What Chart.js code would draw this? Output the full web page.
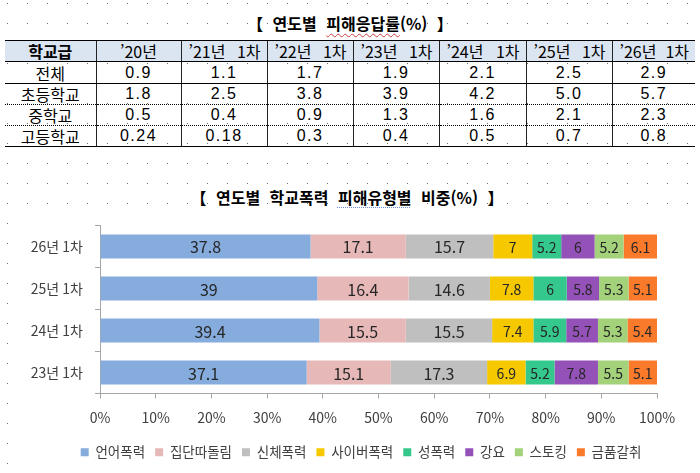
<!DOCTYPE html>
<html lang="ko"><head><meta charset="utf-8">
<script src="https://cdn.jsdelivr.net/npm/chart.js@4"></script>
<style>
html,body{margin:0;padding:0;}
body{width:700px;height:473px;position:relative;overflow:hidden;background-color:#fff;
 background-image:url("data:image/svg+xml,%3Csvg xmlns='http://www.w3.org/2000/svg' width='20' height='20'%3E%3Crect x='7' y='3' width='1' height='1' fill='%23707070'/%3E%3C/svg%3E");
 background-size:20px 20px;font-family:'Noto Sans CJK KR',sans-serif;color:#000;}
.title{position:absolute;left:0;width:700px;text-align:center;font-weight:bold;font-size:16px;word-spacing:5px;line-height:20px;white-space:nowrap;}
.wavy{text-decoration:underline wavy #d04040;text-decoration-thickness:1px;text-underline-offset:3px;}
.dotu{text-decoration:underline dotted #6a8cd0;text-decoration-thickness:1px;text-underline-offset:3px;}
#tbl{position:absolute;left:5px;top:40px;width:690px;border-collapse:collapse;table-layout:fixed;font-size:16px;}
#tbl td,#tbl th{padding:0;text-align:center;height:20px;line-height:20px;white-space:nowrap;overflow:hidden;}
#tbl th{background:#dbe5f1;font-weight:normal;border-top:1px solid #000;border-bottom:1px solid #000;}
#tbl th:first-child{font-weight:bold;}
#tbl td+td,#tbl th+th{border-left:1px solid #222;}
#tbl td.num{font-family:'Liberation Sans','Noto Sans CJK KR',sans-serif;letter-spacing:1.5px;}
#tbl tr.r1 td{border-bottom:1px solid #000;height:21px;}
#tbl tr.r2 td,#tbl tr.r3 td{border-bottom:1px dotted #000;}
#tbl tr.r4 td{border-bottom:1px solid #000;}
.hd{display:flex;justify-content:space-between;padding:0 6px 0 7px;}
#chartbox{position:absolute;left:12px;top:208px;width:676px;height:262px;background:#fff;}
#wrap{position:absolute;left:0;top:205px;width:700px;height:268px;}
</style></head>
<body>
<div class="title" style="top:13px;">【 연도별 <span class="wavy">피해응답률</span>(%) 】</div>
<table id="tbl"></table>
<div class="title" style="top:187px;left:-3px;">【 연도별 학교폭력 <span class="dotu">피해유형별</span> 비중(%) 】</div>
<div id="chartbox"></div>
<div id="wrap"><canvas id="c"></canvas></div>
<script>
// ---- table data ----
const tableHeaders = ['학교급', '’20년', '’21년 1차', '’22년 1차', '’23년 1차', '’24년 1차', '’25년 1차', '’26년 1차'];
const tableRowNames = ['전체', '초등학교', '중학교', '고등학교'];
const rateTotal = ['0.9', '1.1', '1.7', '1.9', '2.1', '2.5', '2.9'];
const rateElem = ['1.8', '2.5', '3.8', '3.9', '4.2', '5.0', '5.7'];
const rateMiddle = ['0.5', '0.4', '0.9', '1.3', '1.6', '2.1', '2.3'];
const rateHigh = ['0.24', '0.18', '0.3', '0.4', '0.5', '0.7', '0.8'];

// ---- chart data ----
const categories = ['26년 1차', '25년 1차', '24년 1차', '23년 1차'];
const seriesNames = ['언어폭력', '집단따돌림', '신체폭력', '사이버폭력', '성폭력', '강요', '스토킹', '금품갈취'];
const verbal   = [37.8, 39, 39.4, 37.1];
const ostracism = [17.1, 16.4, 15.5, 15.1];
const physical = [15.7, 14.6, 15.5, 17.3];
const cyber    = [7, 7.8, 7.4, 6.9];
const sexual   = [5.2, 6, 5.9, 5.2];
const coercion = [6, 5.8, 5.7, 7.8];
const stalking = [5.2, 5.3, 5.3, 5.5];
const extortion = [6.1, 5.1, 5.4, 5.1];
const xTicks = [0, 10, 20, 30, 40, 50, 60, 70, 80, 90, 100];

// ---- build table ----
(function(){
  const t = document.getElementById('tbl');
  const widths = [91, 85, 86, 86, 86, 87, 86, 83];
  let h = '<colgroup>' + widths.map(w => '<col style="width:' + w + 'px">').join('') + '</colgroup>';
  h += '<tr>' + tableHeaders.map((s, i) => {
    const parts = s.split(' ');
    if (parts.length > 1) return '<th><div class="hd"><span>' + parts[0] + '</span><span>' + parts[1] + '</span></div></th>';
    return '<th>' + s + '</th>';
  }).join('') + '</tr>';
  const rows = [rateTotal, rateElem, rateMiddle, rateHigh];
  rows.forEach((r, i) => {
    h += '<tr class="r' + (i + 1) + '"><td>' + tableRowNames[i] + '</td>' + r.map(v => '<td class="num">' + v + '</td>').join('') + '</tr>';
  });
  t.innerHTML = h;
})();

// ---- chart ----
const colors = ['#85acdc', '#e6b9b8', '#bfbfbf', '#f5c800', '#35c88d', '#9452b8', '#a4d27a', '#fa7a2c'];
const seriesData = [verbal, ostracism, physical, cyber, sexual, coercion, stalking, extortion];

const barLabels = {
  id: 'barLabels',
  afterDatasetsDraw(chart) {
    const ctx = chart.ctx;
    chart.data.datasets.forEach((ds, i) => {
      const meta = chart.getDatasetMeta(i);
      meta.data.forEach((bar, j) => {
        const v = ds.data[j];
        const cx = (bar.x + bar.base) / 2;
        ctx.save();
        ctx.font = (v >= 10 ? 16 : 14) + "px 'Noto Sans CJK KR'";
        ctx.fillStyle = '#262626';
        ctx.textAlign = 'center';
        ctx.textBaseline = 'middle';
        ctx.fillText(String(v), cx, bar.y + 1);
        ctx.restore();
      });
    });
  }
};
const legendShift = {
  id: 'legendShift',
  afterLayout(chart) {
    const lg = chart.legend;
    if (!lg) return;
    const d = 361 - (lg.left + lg.right) / 2;
    lg.left += d; lg.right += d;
  }
};

Chart.defaults.font.family = "'Noto Sans CJK KR', sans-serif";
new Chart(document.getElementById('c'), {
  type: 'bar',
  data: {
    labels: categories,
    datasets: seriesNames.map((n, i) => ({
      label: n, data: seriesData[i], backgroundColor: colors[i], borderWidth: 0,
      barPercentage: 0.57, categoryPercentage: 1.0
    }))
  },
  options: {
    indexAxis: 'y',
    responsive: true,
    maintainAspectRatio: false,
    animation: false,
    layout: { padding: { left: 0, right: 43, top: 14, bottom: 4 } },
    scales: {
      x: {
        stacked: true, min: 0, max: 100,
        afterBuildTicks(s) { s.ticks = xTicks.map(v => ({ value: v })); },
        ticks: { callback: v => v + '%', color: '#404040', font: { size: 14 }, padding: 11, maxRotation: 0 },
        grid: { drawOnChartArea: false, drawTicks: true, tickLength: 5, color: '#a6a6a6' },
        border: { color: '#a6a6a6', width: 1 },
        afterFit(s) { s.height = 42; }
      },
      y: {
        stacked: true,
        ticks: { color: '#404040', font: { size: 14 }, padding: 12 },
        grid: { drawOnChartArea: false, drawTicks: true, tickLength: 5, color: '#a6a6a6', offset: true },
        border: { color: '#a6a6a6', width: 1 },
        afterFit(s) { s.width = 100; }
      }
    },
    plugins: {
      legend: {
        position: 'bottom',
        labels: { boxWidth: 8, boxHeight: 8, padding: 10, color: '#404040', font: { size: 13.5 } }
      },
      tooltip: { enabled: false }
    }
  },
  plugins: [barLabels, legendShift]
});
</script>
</body></html>
